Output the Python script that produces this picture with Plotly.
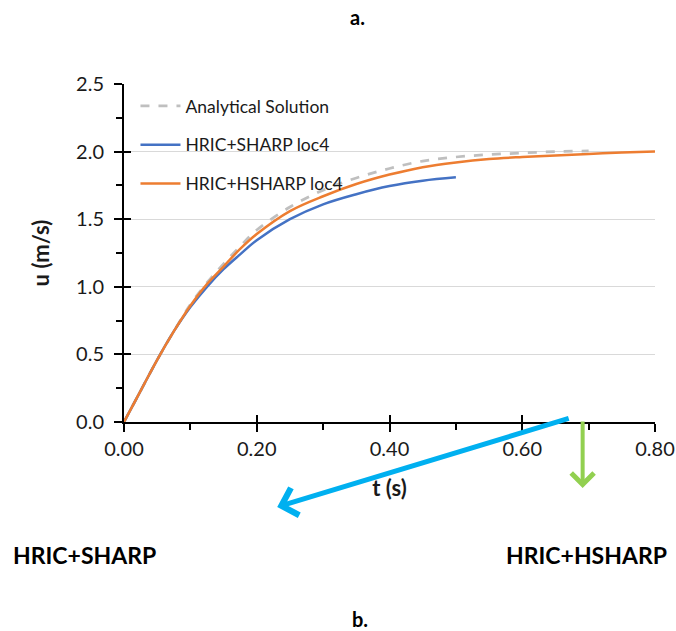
import plotly.graph_objects as go

# ---- data ----
t_analytical = [0, 0.025, 0.05, 0.075, 0.1, 0.125, 0.15, 0.175, 0.2, 0.25, 0.3, 0.35, 0.4, 0.45, 0.5, 0.55, 0.6, 0.65, 0.7]
u_analytical = [0, 0.23, 0.46, 0.67, 0.87, 1.03, 1.17, 1.30, 1.42, 1.59, 1.715, 1.805, 1.875, 1.93, 1.96, 1.978, 1.99, 2.0, 2.005]

t_sharp = [0, 0.025, 0.05, 0.075, 0.1, 0.125, 0.15, 0.175, 0.2, 0.25, 0.3, 0.35, 0.4, 0.45, 0.5]
u_sharp = [0, 0.23, 0.46, 0.67, 0.85, 1.0, 1.13, 1.24, 1.345, 1.50, 1.61, 1.685, 1.745, 1.785, 1.81]

t_hsharp = [0, 0.025, 0.05, 0.075, 0.1, 0.125, 0.15, 0.175, 0.2, 0.25, 0.3, 0.35, 0.4, 0.45, 0.5, 0.55, 0.6, 0.65, 0.7, 0.75, 0.8]
u_hsharp = [0, 0.23, 0.46, 0.67, 0.86, 1.02, 1.15, 1.28, 1.39, 1.56, 1.67, 1.76, 1.83, 1.885, 1.92, 1.945, 1.96, 1.972, 1.983, 1.993, 2.0]

names = ["Analytical Solution", "HRIC+SHARP loc4", "HRIC+HSHARP loc4"]
x_ticks = [0, 0.2, 0.4, 0.6, 0.8]
x_ticklabels = ["0.00", "0.20", "0.40", "0.60", "0.80"]
y_ticks = [0, 0.5, 1.0, 1.5, 2.0, 2.5]
y_ticklabels = ["0.0", "0.5", "1.0", "1.5", "2.0", "2.5"]

FONT = "Lato"
TXT = "#1a1a1a"

# plot area in page pixels
PL, PR, PT, PB = 123.5, 655.5, 84, 422
PW, PH = PR - PL, PB - PT


def px(xp):
    return (xp - PL) / PW


def py(yp):
    return (PB - yp) / PH


fig = go.Figure()
fig.add_trace(go.Scatter(x=t_analytical, y=u_analytical, mode="lines", name=names[0],
                         legendgroup="a", line=dict(color="#BFBFBF", width=2.75, dash="dash", shape="spline")))
fig.add_trace(go.Scatter(x=t_sharp, y=u_sharp, mode="lines", name=names[1],
                         legendgroup="b", line=dict(color="#4472C4", width=2.5, shape="spline")))
fig.add_trace(go.Scatter(x=t_hsharp, y=u_hsharp, mode="lines", name=names[2],
                         legendgroup="c", line=dict(color="#ED7D31", width=2.5, shape="spline")))

axis_common = dict(showline=True, linecolor="black", linewidth=2, zeroline=False, automargin=False,
                   tickfont=dict(family=FONT, size=20, color=TXT),
                   ticks="outside", ticklen=8, tickwidth=2, tickcolor="black")

W, H = 676, 631
fig.update_layout(
    width=W, height=H,
    margin=dict(l=PL, r=W - PR, t=PT, b=H - PB, autoexpand=False),
    paper_bgcolor="white", plot_bgcolor="white",
    font=dict(family=FONT, color=TXT),
    xaxis=dict(range=[0, 0.8], tickvals=x_ticks, ticktext=x_ticklabels, showgrid=False,
               minor=dict(ticks="outside", ticklen=6, tickwidth=2, tickcolor="black", dtick=0.1, showgrid=False),
               title=dict(text="<b>t (s)</b>", font=dict(family=FONT, size=22, color=TXT), standoff=22),
               **axis_common),
    yaxis=dict(range=[0, 2.5], tickvals=y_ticks, ticktext=y_ticklabels, showgrid=True,
               gridcolor="#D9D9D9", gridwidth=1, ticklabelstandoff=6,
               minor=dict(ticks="outside", ticklen=6, tickwidth=2, tickcolor="black", dtick=0.25, showgrid=False),
               title=dict(text="<b>u (m/s)</b>", font=dict(family=FONT, size=22, color=TXT), standoff=20),
               **axis_common),
    xaxis2=dict(range=[0, 0.8], overlaying="x", anchor="y2", tickvals=x_ticks, showticklabels=False,
                ticks="inside", ticklen=7, tickwidth=2, tickcolor="black", showgrid=False,
                showline=False, zeroline=False),
    yaxis2=dict(range=[0, 2.5], overlaying="y", anchor="x2", tickvals=y_ticks, showticklabels=False,
                ticks="inside", ticklen=7, tickwidth=2, tickcolor="black", showgrid=False,
                showline=False, zeroline=False),
    legend=dict(x=px(135), y=py(88), xanchor="left", yanchor="top", bgcolor="rgba(0,0,0,0)",
                font=dict(family=FONT, size=17.5, color=TXT), tracegroupgap=13, itemwidth=40),
    showlegend=True,
)

# invisible helper trace so the inside-tick overlay axes are drawn
fig.add_trace(go.Scatter(x=[0], y=[0], xaxis="x2", yaxis="y2", mode="lines",
                         showlegend=False, hoverinfo="skip", line=dict(width=0), opacity=0))

annotations = [
    dict(text="<b>a.</b>", x=357, y=17, size=20),
    dict(text="<b>b.</b>", x=360, y=619, size=20),
    dict(text="<b>HRIC+SHARP</b>", x=84, y=555, size=23),
    dict(text="<b>HRIC+HSHARP</b>", x=587, y=555, size=23),
]
for a in annotations:
    fig.add_annotation(text=a["text"], xref="paper", yref="paper",
                       x=px(a["x"]), y=py(a["y"]),
                       showarrow=False, font=dict(family=FONT, size=a["size"], color="black"),
                       xanchor="center", yanchor="middle")

# arrows
fig.add_annotation(text="", xref="paper", yref="paper",
                   x=px(277), y=py(507), ax=293, ay=-89,
                   showarrow=True, arrowhead=4, arrowsize=1.1, arrowwidth=5, arrowcolor="#00B0F0")
fig.add_annotation(text="", xref="paper", yref="paper",
                   x=px(583), y=py(488), ax=0, ay=-68,
                   showarrow=True, arrowhead=4, arrowsize=1.1, arrowwidth=4, arrowcolor="#92D050")

fig.write_html("out.html", config={"displayModeBar": False},
               post_script="document.body.style.margin='0';document.body.style.overflow='hidden';")
